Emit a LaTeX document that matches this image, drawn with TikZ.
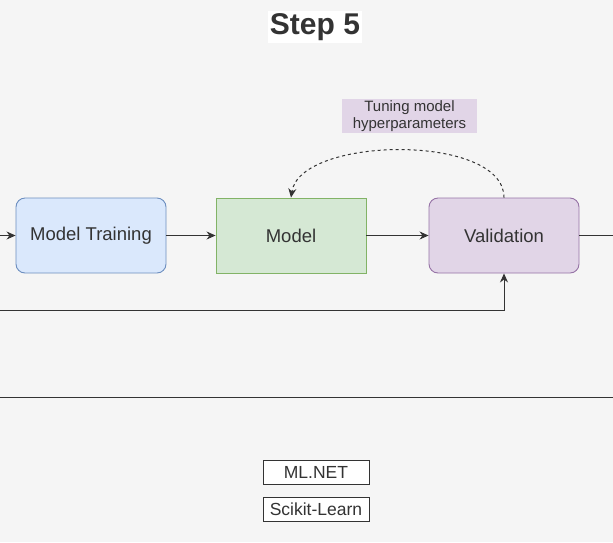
\documentclass[tikz,border=0pt]{standalone}
\usepackage{fontspec}
\setmainfont{Liberation Sans}
\usetikzlibrary{arrows.meta}
\definecolor{bg}{HTML}{F5F5F5}
\definecolor{blueF}{HTML}{DAE8FC}\definecolor{blueS}{HTML}{6C8EBF}
\definecolor{greenF}{HTML}{D5E8D4}\definecolor{greenS}{HTML}{82B366}
\definecolor{purpF}{HTML}{E1D5E7}\definecolor{purpS}{HTML}{9673A6}
\definecolor{txt}{HTML}{333333}
\begin{document}
\begin{tikzpicture}[x=1pt,y=-1pt,
  box/.style={minimum width=150pt,minimum height=75pt,inner sep=0pt,line width=0.9pt,text=txt,font=\fontsize{18.5}{22}\selectfont},
  tool/.style={draw=txt,fill=white,minimum width=106pt,minimum height=24pt,inner sep=0pt,line width=1pt,text=txt,font=\fontsize{17.5}{20}\selectfont},
  conn/.style={draw=txt,line width=1pt},
  arr/.style={conn,-{Stealth[length=9pt,width=8pt]}}]
\fill[bg] (0,0) rectangle (613,542);
\useasboundingbox (0,0) rectangle (613,542);
\node[fill=white,minimum width=94pt,minimum height=32pt,inner sep=0pt,text=txt,font=\fontsize{30}{34}\bfseries] (title) at (315,27) {Step 5};
\node[box,draw=blueS,fill=blueF,rounded corners=9pt] (train) at (91,235.5) {Model Training};
\node[box,draw=greenS,fill=greenF] (model) at (291,235.5) {Model};
\node[box,draw=purpS,fill=purpF,rounded corners=9pt] (val) at (504,235.5) {Validation};
\node[fill=purpF,minimum width=135pt,minimum height=34pt,inner sep=0pt,align=center,text=txt,font=\fontsize{15}{17}\selectfont] (tune) at (409.5,116) {Tuning model\\hyperparameters};
\node[tool] (mlnet) at (316,472) {ML.NET};
\node[tool] (sk) at (316,509) {Scikit-Learn};
\coordinate (inL) at (0,235.5);
\coordinate (outR) at (613,235.5);
\coordinate (lowL) at (0,310);
\coordinate (lowC) at (504,310);
\coordinate (sepL) at (0,397);
\coordinate (sepR) at (613,397);
\draw[arr] (inL) -- (train.west);
\draw[arr] (train.east) -- (model.west);
\draw[arr] (model.east) -- (val.west);
\draw[conn] (val.east) -- (outR);
\draw[arr] (lowL) -- (lowC) -- (val.south);
\draw[conn] (sepL) -- (sepR);
\draw[conn,dashed,-{Stealth[length=9pt,width=8pt]}] (val.north) .. controls (504,133) and (300,136) .. (model.north);
\end{tikzpicture}
\end{document}
